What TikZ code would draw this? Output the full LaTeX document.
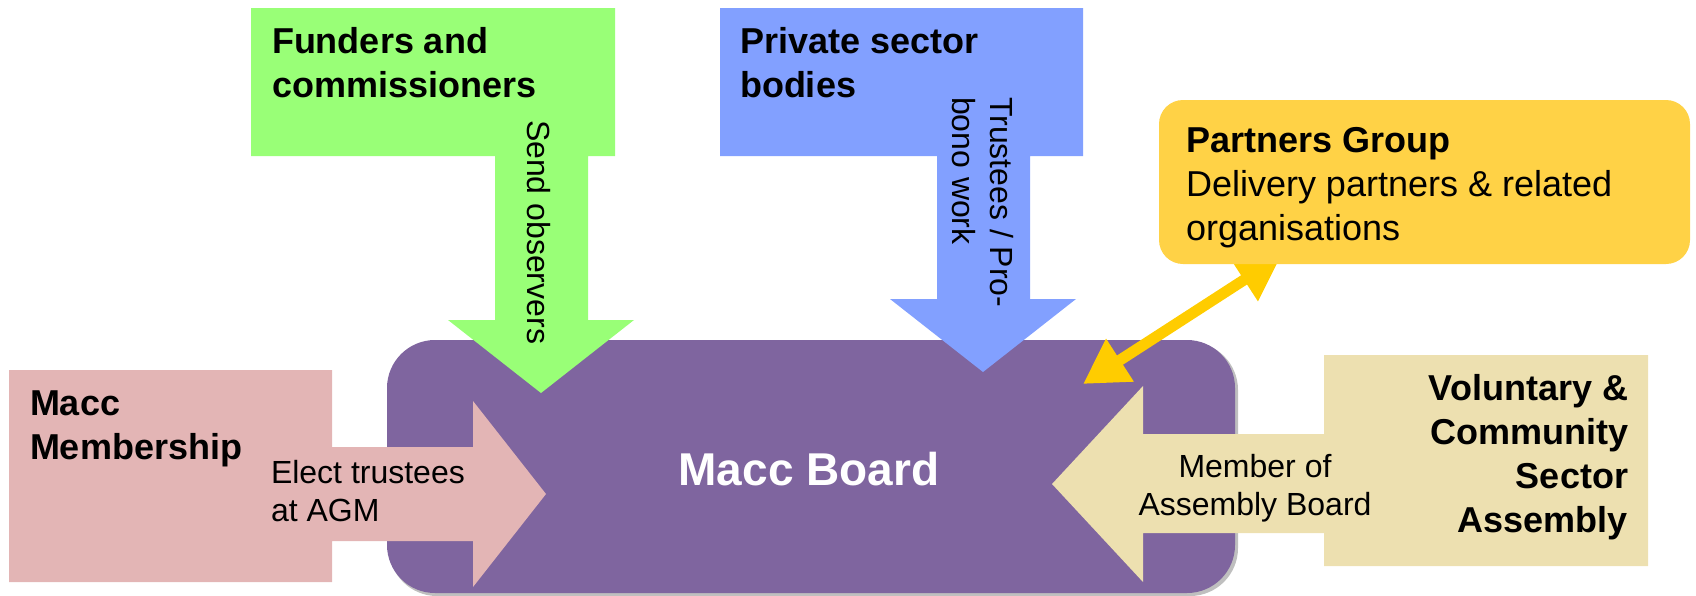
\documentclass[tikz,border=0pt]{standalone}
\usepackage{fontspec}
\setmainfont{Liberation Sans}
\usetikzlibrary{arrows.meta}
\definecolor{cgreen}{RGB}{153,255,119}
\definecolor{cblue}{RGB}{130,160,255}
\definecolor{cyellowbox}{RGB}{255,210,70}
\definecolor{cyellowarrow}{RGB}{255,204,0}
\definecolor{cpurple}{RGB}{127,101,159}
\definecolor{cpink}{RGB}{227,181,181}
\definecolor{cbeige}{RGB}{237,224,176}
\newcommand{\titlefont}{\fontsize{18}{22}\selectfont\bfseries}
\newcommand{\labelfont}{\fontsize{16}{19}\selectfont}
\newcommand{\boardfont}{\fontsize{23}{27}\selectfont\bfseries}
\newcommand{\partnersfont}{\fontsize{18}{22}\selectfont}
\newcommand{\lines}[2]{\begin{tabular}[t]{@{}#1@{}}#2\end{tabular}}
\begin{document}
\begin{tikzpicture}[x=0.5pt,y=-0.5pt,
  txt/.style={inner sep=0pt, outer sep=0pt},
  yarrow/.style={draw=cyellowarrow, line width=5.5pt,
    {Triangle[length=22pt,width=24pt]}-{Triangle[length=22pt,width=24pt]}}]
\useasboundingbox (0,0) rectangle (1696,595);
% board
\fill[gray!50, rounded corners=24pt] (389,342) rectangle (1238,596);
\fill[cpurple, rounded corners=24pt] (387,340) rectangle (1235,593);
% funders (green)
\fill[cgreen] (251,8) -- (615,8) -- (615,156) -- (588,156) -- (588,320) -- (634,320)
  -- (541,393) -- (448,320) -- (495,320) -- (495,156) -- (251,156) -- cycle;
% private sector (blue)
\fill[cblue] (720,8) -- (1083,8) -- (1083,156) -- (1030,156) -- (1030,299) -- (1076,299)
  -- (983,372) -- (890,299) -- (937,299) -- (937,156) -- (720,156) -- cycle;
% membership (pink)
\fill[cpink] (9,370) -- (332,370) -- (332,447) -- (473,447) -- (473,401) -- (546,494)
  -- (473,587) -- (473,541) -- (332,541) -- (332,582) -- (9,582) -- cycle;
% assembly (beige)
\fill[cbeige] (1324,355) -- (1648,355) -- (1648,566) -- (1324,566) -- (1324,533)
  -- (1143,533) -- (1143,582) -- (1052,484) -- (1143,386) -- (1143,434) -- (1324,434) -- cycle;
% yellow connector
\coordinate (ya) at (1083,384);
\coordinate (yb) at (1281,256);
\draw[yarrow] (ya) -- (yb);
% partners box
\fill[cyellowbox, rounded corners=12pt] (1159,100) rectangle (1690,264);
% texts
\node[txt, anchor=base west, font=\titlefont] (funders) at (272,53) {\lines{l}{Funders and\\commissioners}};
\node[txt, anchor=base west, font=\titlefont] (private) at (740,53) {\lines{l}{Private sector\\bodies}};
\node[txt, anchor=base west, font=\labelfont, rotate=-90] (send) at (527,120) {Send observers};
\node[txt, anchor=base west, font=\labelfont, rotate=-90] (trustees) at (990,97) {\lines{l}{Trustees / Pro-\\bono work}};
\node[txt, anchor=base west, font=\titlefont] (membership) at (30,415) {\lines{l}{Macc\\Membership}};
\node[txt, anchor=base west, font=\labelfont] (elect) at (271,483) {\lines{l}{Elect trustees\\at AGM}};
\node[txt, anchor=base, font=\labelfont] (member) at (1255,477) {\lines{c}{Member of\\Assembly Board}};
\node[txt, anchor=base east, font=\titlefont] (vcsa) at (1628,400) {\lines{r}{Voluntary \&\\Community\\Sector\\Assembly}};
\node[txt, anchor=base west, font=\partnersfont] (partners) at (1186,152) {\lines{l}{\textbf{Partners Group}\\Delivery partners \& related\\organisations}};
\node[txt, anchor=base, font=\boardfont, text=white] (board) at (809,485) {Macc Board};
\end{tikzpicture}
\end{document}
